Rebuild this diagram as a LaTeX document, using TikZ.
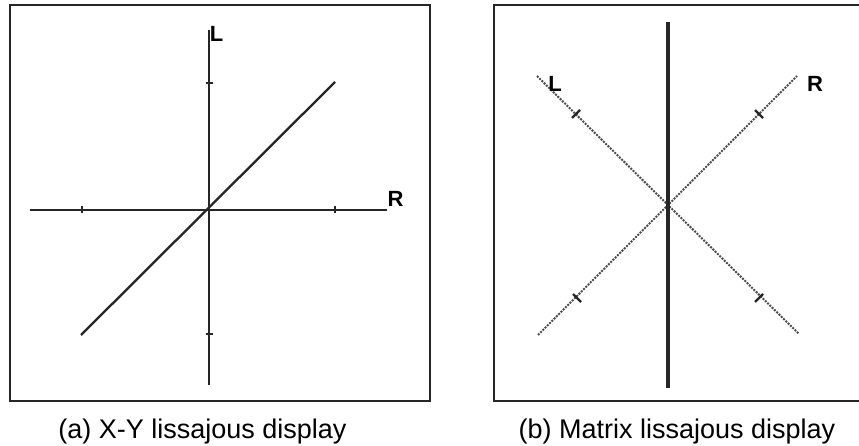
\documentclass[tikz,border=0pt]{standalone}
\usepackage{fontspec}
\setmainfont{Liberation Sans}
\begin{document}
\begin{tikzpicture}[x=1pt,y=-1pt,
  frame/.style={line width=2.1pt,draw=black!85},
  axis/.style={line width=2.4pt,draw=black!85},
  trace/.style={line width=2.3pt,draw=black!85},
  dotline/.style={line width=2pt,draw=black!70,dash pattern=on 2pt off 1.2pt},
  tickmark/.style={line width=2.4pt,draw=black!85},
  axlabel/.style={font=\fontsize{22}{22}\selectfont\bfseries,inner sep=0pt},
  caption/.style={font=\fontsize{27}{27}\selectfont,inner sep=0pt,anchor=base}]
\useasboundingbox (0,0) rectangle (859,446);
% left panel
\draw[frame] (10,5) rectangle (430,401);
\coordinate (oa) at (209,210);
\coordinate (ha) at (30,210);
\coordinate (hb) at (387,210);
\coordinate (va) at (209,30);
\coordinate (vb) at (209,385);
\coordinate (da) at (81,335);
\coordinate (db) at (335,82);
\draw[axis] (ha) -- (hb);
\draw[axis] (va) -- (vb);
\draw[trace] (da) -- (db);
\foreach \x in {82,335} \draw[tickmark] (\x,206.5) -- (\x,213.5);
\foreach \y in {83,334} \draw[tickmark] (205.5,\y) -- (212.5,\y);
\node[axlabel] (La) at (216.5,34) {L};
\node[axlabel] (Ra) at (395.5,199) {R};
\node[caption] (capa) at (202.5,438) {(a) X-Y lissajous display};
% right panel
\draw[frame] (859,5) -- (494,5) -- (494,401) -- (859,401);
\coordinate (ob) at (668,205);
\coordinate (ma) at (668,22);
\coordinate (mb) at (668,388);
\coordinate (la) at (537,76);
\coordinate (lb) at (799,334);
\coordinate (ra) at (538,335);
\coordinate (rb) at (797,76);
\draw[dotline] (la) -- (lb);
\draw[dotline] (ra) -- (rb);
\draw[line width=3.2pt,draw=black!85] (ma) -- (mb);
\foreach \p in {(576,114),(759,298)}
  \draw[tickmark] \p ++(4,-4) -- ++(-8,8);
\foreach \p in {(759,114),(577,298)}
  \draw[tickmark] \p ++(-4,-4) -- ++(8,8);
\node[axlabel] (Lb) at (555,84) {L};
\node[axlabel] (Rb) at (815,84) {R};
\node[caption] (capb) at (677,438) {(b) Matrix lissajous display};
\end{tikzpicture}
\end{document}
